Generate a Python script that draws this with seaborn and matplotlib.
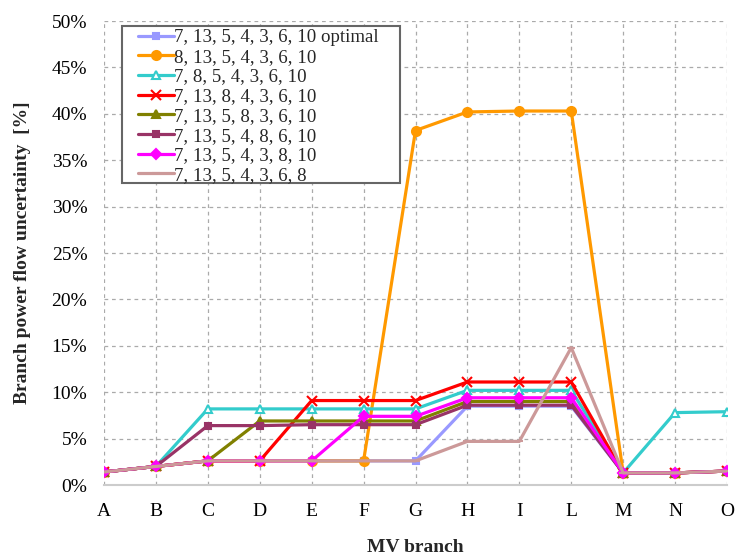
import matplotlib
matplotlib.use("Agg")
import matplotlib.pyplot as plt
from matplotlib.patches import Rectangle
import seaborn as sns
import pandas as pd
import numpy as np

branches = ["A", "B", "C", "D", "E", "F", "G", "H", "I", "L", "M", "N", "O"]

labels = [
    "7, 13, 5, 4, 3, 6, 10 optimal",
    "8, 13, 5, 4, 3, 6, 10",
    "7, 8, 5, 4, 3, 6, 10",
    "7, 13, 8, 4, 3, 6, 10",
    "7, 13, 5, 8, 3, 6, 10",
    "7, 13, 5, 4, 8, 6, 10",
    "7, 13, 5, 4, 3, 8, 10",
    "7, 13, 5, 4, 3, 6, 8",
]

s_optimal = [1.4, 2.0, 2.6, 2.6, 2.6, 2.6, 2.6, 8.5, 8.5, 8.5, 1.3, 1.3, 1.5]
s_8_13 = [1.4, 2.0, 2.6, 2.6, 2.6, 2.6, 38.2, 40.2, 40.3, 40.3, 1.3, 1.3, 1.5]
s_7_8 = [1.4, 2.0, 8.2, 8.2, 8.2, 8.2, 8.2, 10.2, 10.2, 10.2, 1.3, 7.8, 7.9]
s_13_8 = [1.4, 2.0, 2.6, 2.6, 9.1, 9.1, 9.1, 11.1, 11.1, 11.1, 1.3, 1.3, 1.5]
s_5_8 = [1.4, 2.0, 2.6, 6.9, 6.9, 6.9, 6.9, 9.0, 9.0, 9.0, 1.3, 1.3, 1.5]
s_4_8 = [1.4, 2.0, 6.4, 6.4, 6.5, 6.5, 6.5, 8.6, 8.6, 8.6, 1.3, 1.3, 1.5]
s_3_8 = [1.4, 2.0, 2.6, 2.6, 2.6, 7.4, 7.4, 9.4, 9.4, 9.4, 1.3, 1.3, 1.5]
s_6_8 = [1.4, 2.0, 2.6, 2.6, 2.6, 2.6, 2.6, 4.7, 4.7, 14.8, 1.3, 1.3, 1.5]

series = [s_optimal, s_8_13, s_7_8, s_13_8, s_5_8, s_4_8, s_3_8, s_6_8]
colors = ["#9999FF", "#FF9900", "#33CCCC", "#FF0000", "#808000", "#993366", "#FF00FF", "#CC9999"]
markers = ["s", "o", "^", "x", "^", "s", "D", "_"]
msizes = [4, 6.5, 6, 6.5, 6, 5, 5, 6]
mfaces = [None, None, "white", None, None, None, None, None]

sns.set_style("whitegrid")
plt.rcParams["font.family"] = ["Liberation Serif", "DejaVu Serif"]

fig = plt.figure(figsize=(7.37, 5.57), dpi=100)
ax = fig.add_axes([104 / 737, 1 - 485 / 557, 623 / 737, 464 / 557])

xpos = np.arange(len(branches))
for lab, vals, c, m, ms, mf in zip(labels, series, colors, markers, msizes, mfaces):
    df = pd.DataFrame({"x": xpos, "y": vals})
    kw = dict(marker=m, markersize=ms, markeredgecolor=c, markeredgewidth=1.5)
    kw["markerfacecolor"] = mf if mf else c
    sns.lineplot(data=df, x="x", y="y", ax=ax, color=c, linewidth=2.3,
                 label=lab, **kw)

ax.set_xlim(0, len(branches) - 1)
ax.set_ylim(0, 50)
ax.set_xticks(xpos)
ax.set_xticklabels(branches)
ax.set_yticks(np.arange(0, 51, 5))
ax.set_yticklabels([f"{v}%" for v in range(0, 51, 5)])
ax.tick_params(axis="both", labelsize=14, length=0, colors="black")
ax.tick_params(axis="x", pad=13)
ax.tick_params(axis="y", pad=12)

ax.grid(True, color="#AAAAAA", linestyle=(0, (3, 3)), linewidth=0.9)
for side in ["top", "right", "left"]:
    ax.spines[side].set_visible(False)
ax.spines["bottom"].set_color("#CCCCCC")
ax.spines["bottom"].set_linewidth(1.5)

ax.set_xlabel("MV branch", fontsize=14, fontweight="bold", labelpad=14)
ax.set_ylabel("Branch power flow uncertainty  [%]", fontsize=14, fontweight="bold", labelpad=15)

frame = Rectangle((122 / 737, 1 - 183 / 557), (400 - 122) / 737, (183 - 26) / 557,
                  transform=fig.transFigure, facecolor="white", edgecolor="#666666",
                  linewidth=1.5, zorder=4, clip_on=False)
ax.add_patch(frame)

leg = ax.legend(loc="upper left", bbox_to_anchor=(138 / 737, 1 - 29 / 557),
                bbox_transform=fig.transFigure, borderaxespad=0, borderpad=0,
                fontsize=13.6, handlelength=1.9, handletextpad=0.0, labelspacing=0.13,
                frameon=False)
leg.set_zorder(6)

fig.savefig("out.png", dpi=100)
